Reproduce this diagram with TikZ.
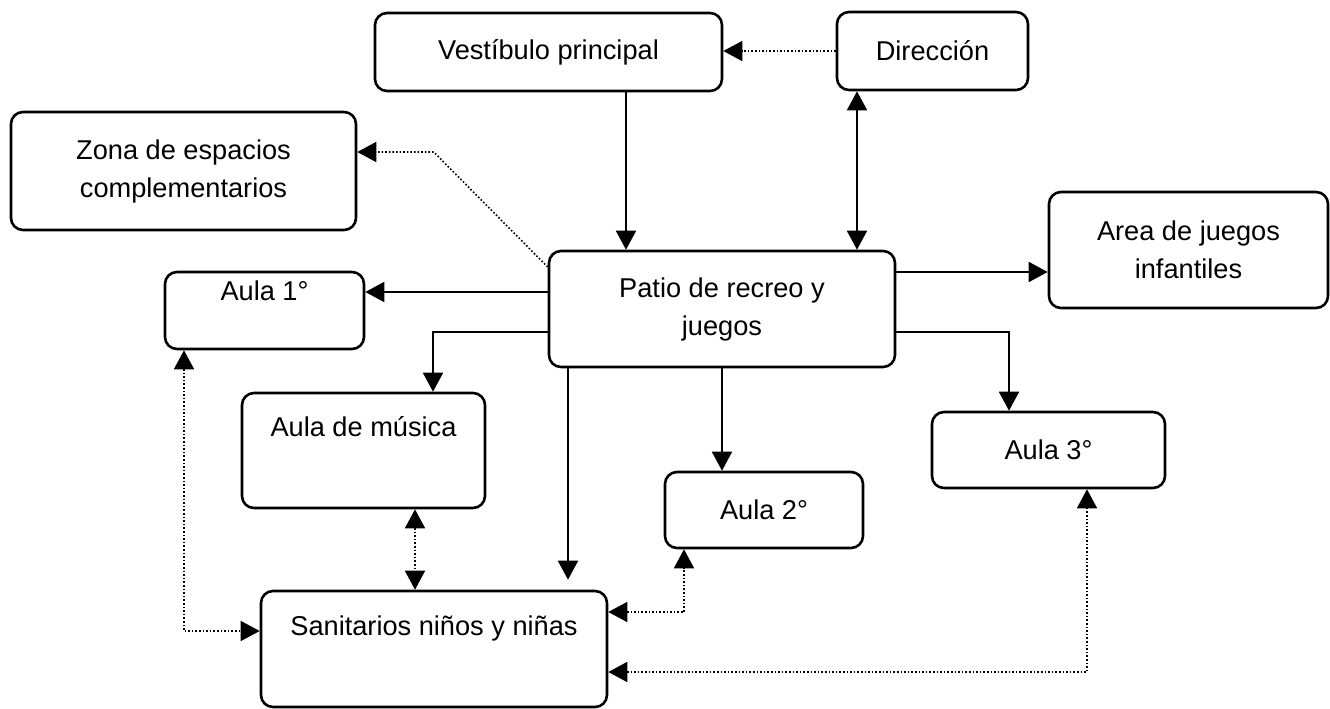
\documentclass[tikz,border=0pt]{standalone}
\usepackage{fontspec}
\setmainfont{Liberation Sans}
\usetikzlibrary{arrows.meta,calc,positioning}
\newcommand\letra{\fontsize{13.6}{19}\selectfont}

\begin{document}
\begin{tikzpicture}[x=.5pt,y=-.5pt,>={Triangle[length=9.5pt,width=10pt]},
  sala/.style={draw,line width=1.3pt,rounded corners=6pt,align=center,inner sep=0pt,font=\letra},
  arriba/.style={anchor=base,yshift=-#1,inner sep=0pt,font=\letra},
  flecha/.style={line width=.9pt},
  punteada/.style={line width=.8pt,densely dotted}]
\useasboundingbox (0,0) rectangle (1330,708);
% salas
\node[sala,minimum width=173.5pt,minimum height=39pt] (vest) at (548.5,52) {Vestíbulo principal};
\node[sala,minimum width=95.5pt,minimum height=39pt] (dir) at (932.5,51) {Dirección};
\node[sala,minimum width=172.5pt,minimum height=59pt] (zona) at (183.5,171) {Zona de espacios\\complementarios};
\node[sala,minimum width=173pt,minimum height=58pt] (patio) at (722,309) {Patio de recreo y\\juegos};
\node[sala,minimum width=139.5pt,minimum height=58pt] (area) at (1188.5,250) {Area de juegos\\infantiles};
\node[sala,minimum width=99.5pt,minimum height=38.5pt,label={[arriba=15pt]north:Aula 1°}] (aula1) at (264.5,310.5) {};
\node[sala,minimum width=121.5pt,minimum height=57.5pt,label={[arriba=22.5pt]north:Aula de música}] (musica) at (363.5,450.5) {};
\node[sala,minimum width=99pt,minimum height=38pt] (aula2) at (764,510) {Aula 2°};
\node[sala,minimum width=116.5pt,minimum height=38pt] (aula3) at (1048.5,450) {Aula 3°};
\node[sala,minimum width=173pt,minimum height=58pt,label={[arriba=23pt]north:Sanitarios niños y niñas}] (sanit) at (434,649) {};
% flechas desde el patio
\draw[flecha,->] ($(vest.south)+(77.5,0)$) -- ($(patio.north)+(-96,0)$);
\draw[flecha,<->] ($(dir.south)+(-75.5,0)$) -- ($(patio.north)+(135,0)$);
\draw[flecha,->] ($(patio.west)+(0,-17)$) coordinate (p1) -- (p1 -| aula1.east);
\draw[flecha,->] ($(patio.west)+(0,23)$) -| ($(musica.north)+(69.5,0)$);
\draw[flecha,->,shorten >=5pt] ($(patio.south)+(-154,0)$) -- ($(sanit.north)+(134,0)$);
\draw[flecha,->] (patio.south) -- (patio.south |- aula2.north);
\draw[flecha,->] ($(patio.east)+(0,23)$) -| ($(aula3.north)+(-39.5,0)$);
\draw[flecha,->] ($(patio.east)+(0,-37)$) coordinate (p2) -- (p2 -| area.west);
% punteadas
\draw[punteada,->] (dir.west) -- (dir.west -| vest.east);
\draw[punteada,->] ($(patio.west)+(0,-42)$) -- ++(-114,-115) coordinate (quiebre) -- (quiebre -| zona.east);
\draw[punteada,<->] ($(musica.south)+(51.5,0)$) coordinate (p3) -- (p3 |- sanit.north);
\draw[punteada,<->] ($(aula1.south)+(-80.5,0)$) |- ($(sanit.west)+(0,-18)$);
\draw[punteada,<->] ($(sanit.east)+(0,-37)$) -| ($(aula2.south)+(-80,0)$);
\draw[punteada,<->] ($(sanit.east)+(0,23)$) -| ($(aula3.south)+(38.5,0)$);
\end{tikzpicture}
\end{document}
